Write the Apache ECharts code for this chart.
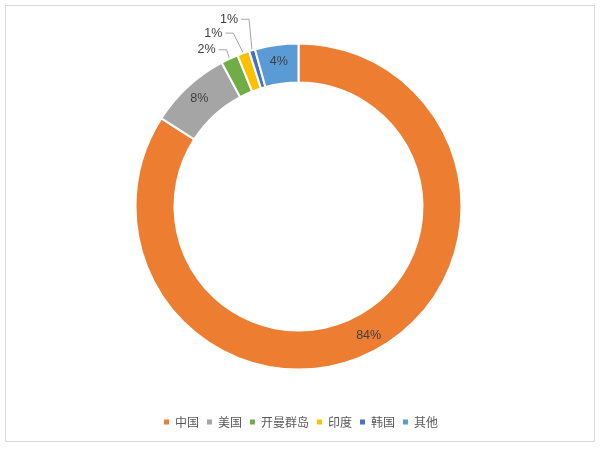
<!DOCTYPE html>
<html>
<head>
<meta charset="utf-8">
<script src="https://cdn.jsdelivr.net/npm/echarts@6/dist/echarts.min.js"></script>
<style>
html,body{margin:0;padding:0;background:#fff;}
#chart{width:600px;height:450px;}
</style>
</head>
<body>
<div id="chart"></div>
<script>
var categories = ['中国', '美国', '开曼群岛', '印度', '韩国', '其他'];
var shares = [84.1, 8.1, 1.7, 1.2, 0.6, 4.3];
var colors = ['#ED7D31', '#A5A5A5', '#70AD47', '#FFC000', '#4472C4', '#5B9BD5'];
var outsideLabel = [false, false, true, true, true, false];
// leader-line elbow offsets (relative to slice edge) for outside labels
var elbowOffsets = [null, null, [-3, -9], [-10, -20], [-3, -31], null];

var chart = echarts.init(document.getElementById('chart'), null, {renderer: 'canvas'});

var data = categories.map(function (name, i) {
  var item = {
    name: name,
    value: shares[i],
    itemStyle: {color: colors[i]}
  };
  if (outsideLabel[i]) {
    item.label = {position: 'outside'};
    item.labelLine = {show: true};
  }
  return item;
});

chart.setOption({
  animation: false,
  backgroundColor: '#fff',
  graphic: [{
    type: 'rect',
    shape: {x: 5.5, y: 5.5, width: 589, height: 436},
    style: {fill: 'none', stroke: '#d9d9d9', lineWidth: 1},
    silent: true
  }],
  legend: {
    data: categories,
    bottom: 17,
    left: 'center',
    icon: 'rect',
    itemWidth: 7,
    itemHeight: 7,
    itemGap: 6,
    textStyle: {
      color: '#595959',
      fontSize: 12,
      fontFamily: 'Noto Sans CJK SC'
    }
  },
  series: [{
    type: 'pie',
    center: [298.5, 206.5],
    radius: [124, 163],
    startAngle: 90,
    clockwise: true,
    avoidLabelOverlap: false,
    itemStyle: {borderColor: '#fff', borderWidth: 2},
    label: {
      show: true,
      position: 'inside',
      formatter: function (p) { return Math.round(p.value) + '%'; },
      color: '#404040',
      fontSize: 12.5,
      fontFamily: 'Liberation Sans'
    },
    labelLine: {
      show: false,
      length: 12,
      length2: 8,
      lineStyle: {color: '#a6a6a6', width: 1}
    },
    labelLayout: function (params) {
      var off = elbowOffsets[params.dataIndex];
      if (!off || !params.labelLinePoints) { return {}; }
      var p0 = params.labelLinePoints[0];
      var elbow = [p0[0] + off[0], p0[1] + off[1]];
      var end = [elbow[0] - 8, elbow[1]];
      return {
        x: end[0] - 3,
        y: end[1],
        align: 'right',
        verticalAlign: 'middle',
        labelLinePoints: [p0, elbow, end]
      };
    },
    emphasis: {disabled: true},
    data: data
  }]
});
</script>
</body>
</html>
